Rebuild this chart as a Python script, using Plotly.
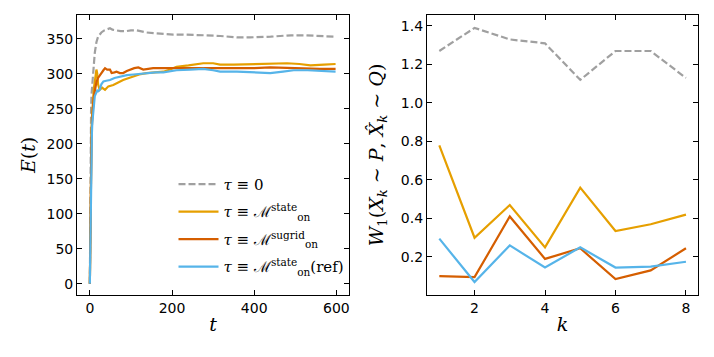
import plotly.graph_objects as go
from plotly.subplots import make_subplots

# ---- left panel: E(t) ----
t_zero = [0, 1, 2, 3, 4, 6, 8, 10, 12, 16, 20, 24, 28, 35, 42, 49, 55, 65, 75, 89,
          100, 114, 126, 138, 155, 171, 187, 203, 225, 252, 280, 317, 340, 358, 390, 415, 440, 463, 490, 520,
          560, 598]
E_zero = [0, 150, 215, 250, 270, 290, 300, 315, 330, 345, 353, 357, 359, 362, 364, 365, 363, 362, 361, 361,
          362, 362, 360, 359, 358, 357, 356, 356, 356, 356, 355, 354, 353, 352, 352, 352, 353, 354, 355, 355,
          354, 353]

t_state = [0, 1, 2, 3, 4, 5, 6, 8, 10, 12, 14, 16, 18, 20, 24, 30, 37, 45, 57, 70,
           81, 95, 106, 120, 138, 160, 179, 195, 211, 240, 276, 300, 317, 350, 398, 440, 480, 510, 537, 570,
           598]
E_state = [0, 90, 150, 190, 215, 235, 250, 265, 280, 292, 300, 306, 300, 285, 277, 280, 277, 282, 284, 288,
           291, 294, 296, 299, 301, 302, 303, 306, 310, 312, 315, 315, 313, 313, 314, 314, 315, 314, 312, 313,
           314]

t_sugrid = [0, 1, 2, 3, 4, 5, 6, 8, 10, 13, 16, 20, 24, 28, 33, 37, 42, 49, 53, 60,
            65, 73, 81, 90, 98, 108, 118, 130, 142, 154, 170, 187, 211, 240, 276, 320, 358, 400, 439, 480,
            520, 560, 598]
E_sugrid = [0, 80, 140, 180, 205, 225, 240, 255, 268, 280, 288, 294, 298, 301, 305, 308, 306, 306, 301, 302,
            303, 301, 301, 304, 306, 308, 309, 306, 307, 308, 308, 308, 308, 307, 307, 307, 307, 308, 309, 308,
            307, 307, 307]

t_ref = [0, 1, 2, 3, 4, 5, 6, 8, 10, 12, 15, 18, 20, 24, 28, 33, 40, 49, 60, 73,
         90, 106, 120, 138, 160, 179, 195, 211, 244, 276, 300, 317, 358, 400, 439, 470, 496, 530, 565, 598]
E_ref = [0, 60, 120, 165, 195, 215, 230, 248, 260, 268, 272, 276, 275, 277, 285, 289, 290, 291, 294, 296,
         298, 299, 300, 301, 302, 302, 304, 305, 306, 307, 305, 303, 303, 302, 301, 303, 305, 305, 304, 303]

# ---- right panel: W1 per k ----
k = [1, 2, 3, 4, 5, 6, 7, 8]
W_zero = [1.27, 1.39, 1.33, 1.31, 1.12, 1.27, 1.27, 1.13]
W_state = [0.78, 0.30, 0.47, 0.25, 0.56, 0.335, 0.37, 0.42]
W_sugrid = [0.10, 0.095, 0.41, 0.19, 0.245, 0.085, 0.13, 0.245]
W_ref = [0.295, 0.07, 0.26, 0.145, 0.25, 0.145, 0.15, 0.175]

names = ["<i>τ</i> ≡ 0",
         "<i>τ</i> ≡ ℳ<sup>state</sup><sub>on</sub>",
         "<i>τ</i> ≡ ℳ<sup>sugrid</sup><sub>on</sub>",
         "<i>τ</i> ≡ ℳ<sup>state</sup><sub>on</sub>(ref)"]
colors = ["#a0a0a0", "#E69F00", "#D55E00", "#56B4E9"]
dashes = ["7px,3px", "solid", "solid", "solid"]

left = [(t_zero, E_zero), (t_state, E_state), (t_sugrid, E_sugrid), (t_ref, E_ref)]
right = [W_zero, W_state, W_sugrid, W_ref]

fig = make_subplots(rows=1, cols=2)

for i in range(4):
    fig.add_trace(go.Scatter(x=left[i][0], y=left[i][1], mode="lines", name=names[i],
                             legendgroup=f"g{i}",
                             line=dict(color=colors[i], width=2.2, dash=dashes[i])), row=1, col=1)
for i in range(4):
    fig.add_trace(go.Scatter(x=k, y=right[i], mode="lines", showlegend=False, legendgroup=f"g{i}",
                             line=dict(color=colors[i], width=2.2, dash=dashes[i])), row=1, col=2)

axis_style = dict(ticks="inside", mirror="ticks", showline=True, linecolor="black", linewidth=1.2,
                  tickcolor="black", ticklen=5, showgrid=False, zeroline=False,
                  tickfont=dict(family="DejaVu Sans", size=14, color="black"))
math_font = dict(family="DejaVu Serif", size=19, color="black")

fig.update_xaxes(axis_style)
fig.update_yaxes(axis_style)

fig.update_xaxes(domain=[0.108, 0.489], range=[-31, 631], tickvals=[0, 200, 400, 600],
                 title=dict(text="<i>t</i>", font=math_font, standoff=2), row=1, col=1)
fig.update_yaxes(domain=[0.174, 0.958], range=[-16, 384], tickvals=list(range(0, 351, 50)),
                 title=dict(text="<i>E</i>(<i>t</i>)", font=math_font, standoff=5), row=1, col=1)
fig.update_xaxes(domain=[0.598, 0.978], range=[0.65, 8.35], tickvals=[2, 4, 6, 8],
                 title=dict(text="<i>k</i>", font=math_font, standoff=2), row=1, col=2)
fig.update_yaxes(domain=[0.174, 0.958], range=[0.003, 1.457], tickvals=[0.2, 0.4, 0.6, 0.8, 1.0, 1.2, 1.4],
                 tickformat=".1f",
                 title=dict(text="<i>W</i><sub>1</sub>(<i>X</i><sub><i>k</i></sub> ∼ <i>P</i>, "
                                 "<i>X̂</i><sub><i>k</i></sub> ∼ <i>Q</i>)", font=math_font, standoff=12),
                 row=1, col=2)

fig.update_layout(
    width=714, height=357,
    margin=dict(l=0, r=0, t=0, b=0),
    plot_bgcolor="white", paper_bgcolor="white",
    legend=dict(x=0.243, y=0.53, xanchor="left", yanchor="top", bgcolor="rgba(0,0,0,0)",
                font=dict(family="DejaVu Serif", size=15, color="black"),
                itemwidth=40, tracegroupgap=5),
)

# drop the default 8px page margin so the figure sits at the window origin
fig.write_html("out.html", config={"displayModeBar": False},
               post_script="document.body.style.margin='0px';")
